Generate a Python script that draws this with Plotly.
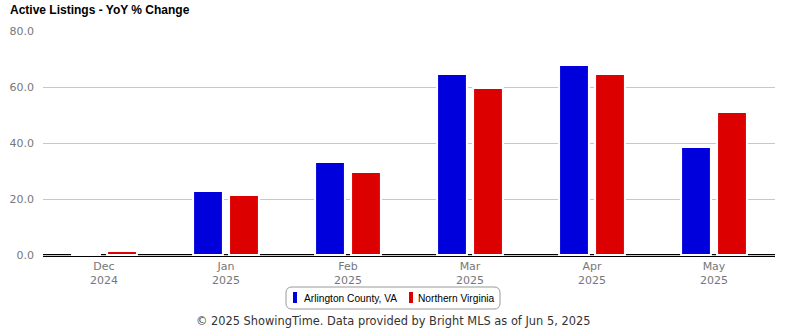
import plotly.graph_objects as go

months = ["Dec<br>2024", "Jan<br>2025", "Feb<br>2025", "Mar<br>2025", "Apr<br>2025", "May<br>2025"]
arlington = [0.0, 22.9, 33.2, 64.6, 67.9, 38.6]
nova = [1.4, 21.4, 29.6, 59.6, 64.6, 51.1]
series_names = ["Arlington County, VA", "Northern Virginia"]
colors = ["#0000DD", "#DD0000"]

W, H = 785, 330
L, R, T, B = 43, 775, 31, 258

def px(x):
    return (x - L) / (R - L)

def py(y):
    return (B - y) / (B - T)

fig = go.Figure()
for name, vals, c in zip(series_names, [arlington, nova], colors):
    fig.add_trace(go.Bar(x=months, y=vals, name=name,
                         marker=dict(color=c, line=dict(color="white", width=2)),
                         hoverinfo="x+y"))

shapes = []
# double zero line (zero line + axis line)
for off in (0.5, -1.5):
    shapes.append(dict(type="line", xref="paper", yref="y", x0=0, x1=1,
                       ysizemode="pixel", yanchor=0, y0=off, y1=off,
                       line=dict(color="black", width=1), layer="between"))

# legend box (rounded)
x0, x1, y0, y1 = 286, 500, 287, 309
r = 6
path = (f"M {px(x0+r)},{py(y0)} L {px(x1-r)},{py(y0)} Q {px(x1)},{py(y0)} {px(x1)},{py(y0+r)} "
        f"L {px(x1)},{py(y1-r)} Q {px(x1)},{py(y1)} {px(x1-r)},{py(y1)} "
        f"L {px(x0+r)},{py(y1)} Q {px(x0)},{py(y1)} {px(x0)},{py(y1-r)} "
        f"L {px(x0)},{py(y0+r)} Q {px(x0)},{py(y0)} {px(x0+r)},{py(y0)} Z")
shapes.append(dict(type="path", xref="paper", yref="paper", path=path,
                   line=dict(color="#999999", width=1), fillcolor="white", layer="above"))
legend_items = [(293, 302), (409, 416)]
annotations = []
for (mx, tx), name, c in zip(legend_items, series_names, colors):
    shapes.append(dict(type="rect", xref="paper", yref="paper",
                       x0=px(mx), x1=px(mx + 4), y0=py(303), y1=py(292),
                       line=dict(width=0), fillcolor=c, layer="above"))
    annotations.append(dict(text=name, xref="paper", yref="paper", x=px(tx), y=py(298),
                            xanchor="left", yanchor="middle", showarrow=False,
                            font=dict(family="Liberation Sans", size=10.2, color="#000")))

annotations.append(dict(text="© 2025 ShowingTime. Data provided by Bright MLS as of Jun 5, 2025",
                        xref="paper", yref="paper", x=px(393), y=py(321),
                        xanchor="center", yanchor="middle", showarrow=False,
                        font=dict(family="DejaVu Sans", size=11.4, color="#333")))

fig.update_layout(
    width=W, height=H,
    margin=dict(l=L, r=W - R, t=T, b=H - B),
    paper_bgcolor="white", plot_bgcolor="white",
    title=dict(text="<b>Active Listings - YoY % Change</b>", x=10 / W, y=1 - 10 / H,
               xanchor="left", yanchor="middle", xref="container", yref="container",
               font=dict(family="Liberation Sans", size=12, color="#000")),
    showlegend=False,
    barmode="group", bargap=0.41, bargroupgap=0.17,
    shapes=shapes, annotations=annotations,
    xaxis=dict(showgrid=False, zeroline=False, showline=False, ticks="",
               tickfont=dict(family="DejaVu Sans", size=11, color="#777")),
    yaxis=dict(range=[-3 / 2.8, 80], tickvals=[0, 20, 40, 60, 80],
               ticktext=["0.0", "20.0", "40.0", "60.0", "80.0"],
               showgrid=True, gridcolor="#C8C8C8", gridwidth=1, zeroline=False,
               showline=False, ticks="", ticklabelstandoff=8,
               tickfont=dict(family="DejaVu Sans", size=11, color="#777")),
)

fig.write_html("out.html")
